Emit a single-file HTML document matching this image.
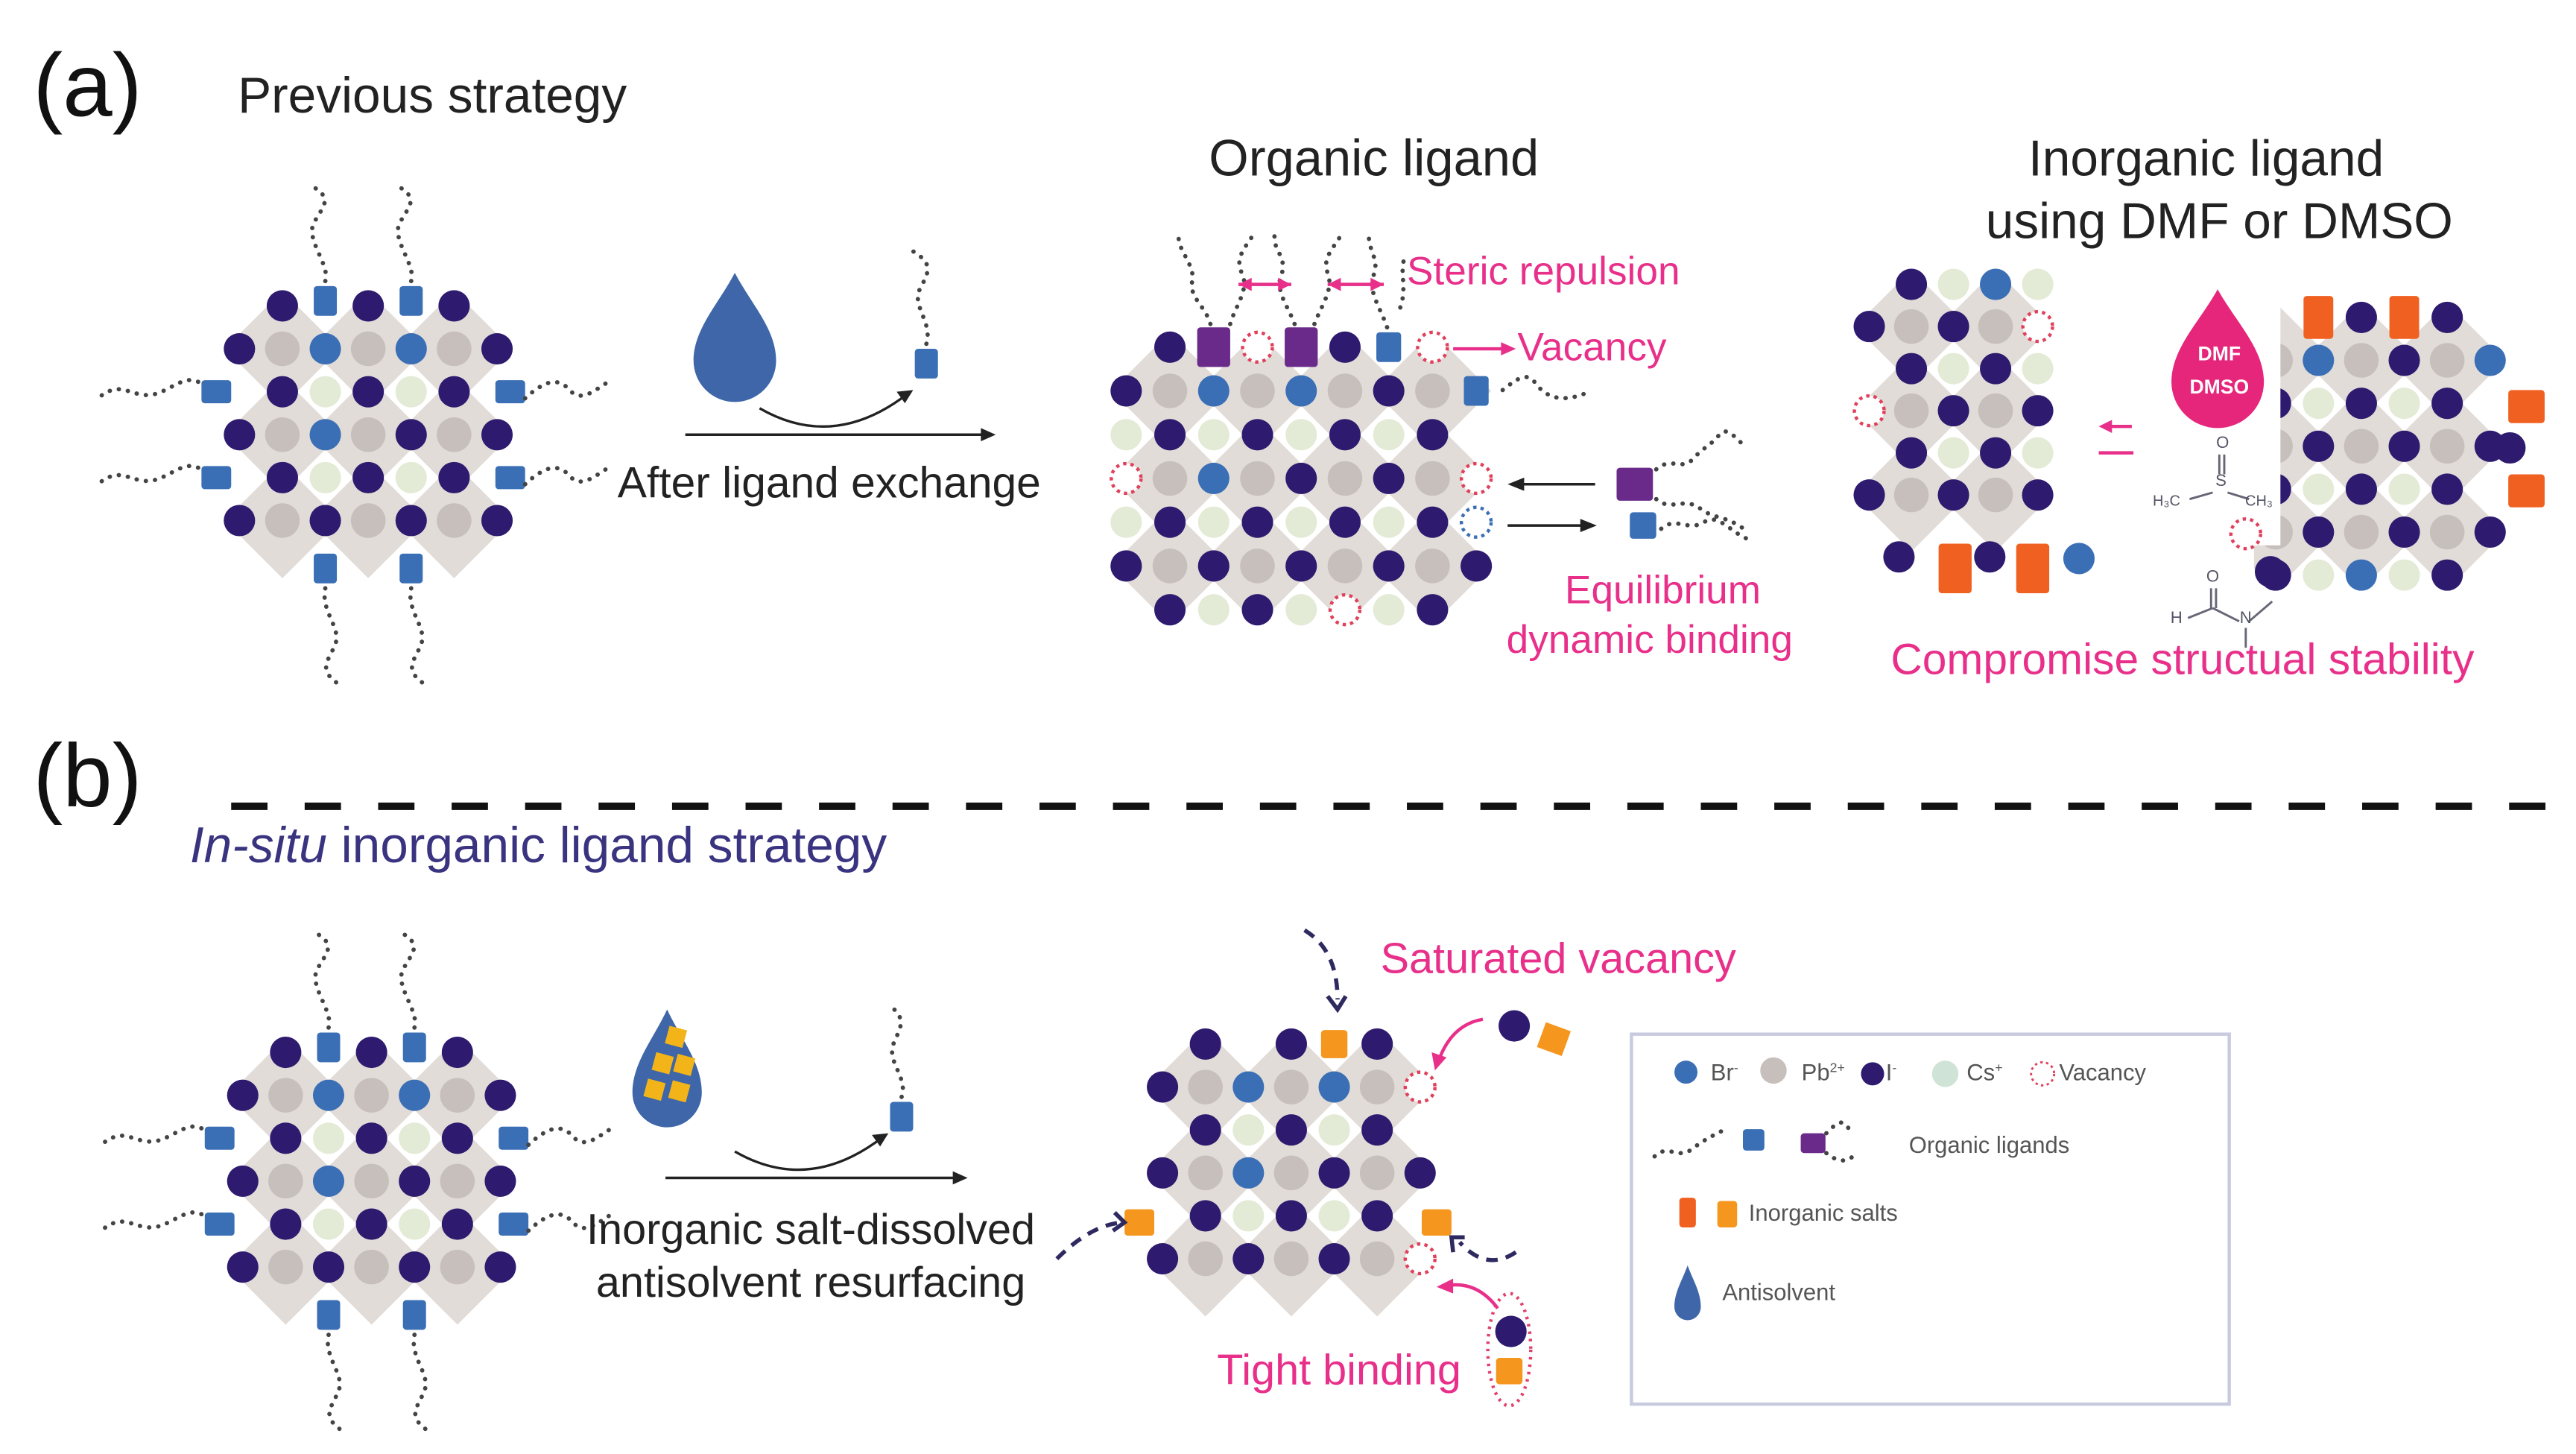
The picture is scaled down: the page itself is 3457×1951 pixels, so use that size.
<!DOCTYPE html>
<html><head><meta charset="utf-8"><style>
html,body{margin:0;padding:0;background:#fff;}
svg{display:block}
text{font-family:"Liberation Sans",Arial,sans-serif;}
</style></head><body>
<svg id="s" width="3457" height="1951" viewBox="0 0 1560 880" xmlns="http://www.w3.org/2000/svg">
<rect width="1560" height="880" fill="#fff"/>
<g id="g"></g>
<g id="t">
<text x="20" y="70" font-size="54" fill="#111">(a)</text>
<text x="144" y="68" font-size="30.5" fill="#222">Previous strategy</text>
<text x="832" y="106" font-size="31" fill="#222" text-anchor="middle">Organic ligand</text>
<text x="1336" y="106" font-size="30.5" fill="#222" text-anchor="middle">Inorganic ligand</text>
<text x="1344" y="144" font-size="30.5" fill="#222" text-anchor="middle">using DMF or DMSO</text>
<text x="852" y="172" font-size="24" fill="#e8308a">Steric repulsion</text>
<text x="919" y="218" font-size="24" fill="#e8308a">Vacancy</text>
<text x="1007" y="365" font-size="24" fill="#e8308a" text-anchor="middle">Equilibrium</text>
<text x="999" y="395" font-size="24" fill="#e8308a" text-anchor="middle">dynamic binding</text>
<text x="1145" y="408" font-size="26.5" fill="#e8308a">Compromise structual stability</text>
<text x="374" y="301" font-size="26.5" fill="#222">After ligand exchange</text>
<text x="20" y="488" font-size="54" fill="#111">(b)</text>
<text x="115" y="522" font-size="30.5" fill="#3a3480"><tspan font-style="italic">In-situ</tspan> inorganic ligand strategy</text>
<text x="836" y="589" font-size="26" fill="#e8308a">Saturated vacancy</text>
<text x="491" y="753" font-size="26" fill="#222" text-anchor="middle">Inorganic salt-dissolved</text>
<text x="491" y="785" font-size="26" fill="#222" text-anchor="middle">antisolvent resurfacing</text>
<text x="737" y="838" font-size="26" fill="#e8308a">Tight binding</text>
<text x="1036" y="654" font-size="14" fill="#555">Br<tspan font-size="8" dy="-5">-</tspan></text>
<text x="1091" y="654" font-size="14" fill="#555">Pb<tspan font-size="8" dy="-5">2+</tspan></text>
<text x="1142" y="654" font-size="14" fill="#555">I<tspan font-size="8" dy="-5">-</tspan></text>
<text x="1191" y="654" font-size="14" fill="#555">Cs<tspan font-size="8" dy="-5">+</tspan></text>
<text x="1247" y="654" font-size="14" fill="#555">Vacancy</text>
<text x="1156" y="698" font-size="14" fill="#555">Organic ligands</text>
<text x="1059" y="739" font-size="14" fill="#555">Inorganic  salts</text>
<text x="1043" y="787" font-size="14" fill="#555">Antisolvent</text>
</g>
</svg>
<script>
const NS="http://www.w3.org/2000/svg";
const g=document.getElementById('g');
const bg=document.createElementNS(NS,'g'),fg=document.createElementNS(NS,'g');
g.appendChild(bg);g.appendChild(fg);
function el(t,a,p){const e=document.createElementNS(NS,t);for(const k in a)e.setAttribute(k,a[k]);(p||fg).appendChild(e);return e;}
function txt(x,y,s,c,str,w){const e=el('text',{x:x,y:y,'font-size':s,fill:c,'text-anchor':'middle'});if(w)e.setAttribute('font-weight','bold');e.textContent=str;}
const C={I:'#2e1a6e',B:'#3a6fb5',P:'#c6bfbb',C:'#e3ebd6',D:'#e2dcd8'};
function circ(x,y,c,r){el('circle',{cx:x,cy:y,r:r||9.5,fill:c});}
function vac(x,y,col){el('circle',{cx:x,cy:y,r:9,fill:'#fff',stroke:col||'#e0405a','stroke-width':2,'stroke-dasharray':'2 2.5'});}
function lig(x,y,c,w,h){el('rect',{x:x-w/2,y:y-h/2,width:w,height:h,rx:2,fill:c});}
function tail(d){el('path',{d:d,fill:'none',stroke:'#444','stroke-width':2.6,'stroke-dasharray':'0.1 5.5','stroke-linecap':'round'});}
function lattice(x0,y0,u,rows,o){o=o||{};
 rows.forEach((r,j)=>{[...r].forEach((ch,i)=>{const x=x0+i*u,y=y0+j*u;
  if(ch==='P'){el('rect',{x:x-u*0.95,y:y-u*0.95,width:u*1.9,height:u*1.9,fill:C.D,transform:`rotate(45 ${x} ${y})`},bg);}
 });});
 rows.forEach((r,j)=>{[...r].forEach((ch,i)=>{const x=x0+i*u,y=y0+j*u;
  if(ch==='P')circ(x,y,C.P,10.5);else if(ch==='I')circ(x,y,C.I);else if(ch==='B')circ(x,y,C.B);
  else if(ch==='C')circ(x,y,C.C);else if(ch==='V')vac(x,y);else if(ch==='W')vac(x,y,'#3a6fb5');
  else if(ch==='L')lig(x,y,'#3a6fb5',15,18);else if(ch==='M')lig(x,y,'#6a2a8a',20,24);
  else if(ch==='O')lig(x,y,o.O||'#f5961e',16,17);else if(ch==='R')lig(x,y,'#f06020',18,26);
 });});}
function leftCrystal(dx,dy){
 lattice(145+dx,185+dy,26,[".I.I.I.","IPBPBPI",".ICICI.","IPBPIPI",".ICICI.","IPIPIPI"]);
 [[197,182],[249,182]].forEach(p=>lig(p[0]+dx,p[1]+dy,'#3a6fb5',14,18));
 [[197,344],[249,344]].forEach(p=>lig(p[0]+dx,p[1]+dy,'#3a6fb5',14,18));
 [[131,237],[131,289]].forEach(p=>lig(p[0]+dx,p[1]+dy,'#3a6fb5',18,14));
 [[309,237],[309,289]].forEach(p=>lig(p[0]+dx,p[1]+dy,'#3a6fb5',18,14));
 const t=(d)=>tail(d.replace(/(-?\d+\.?\d*),(-?\d+\.?\d*)/g,(m,a,b)=>(+a+dx)+','+(+b+dy)));
 t("M197,170 C200,160 185,145 190,135 C195,125 203,120 188,112");
 t("M249,170 C252,160 237,145 242,135 C247,125 255,120 240,112");
 t("M197,356 C194,370 207,380 203,390 C199,400 192,405 205,414");
 t("M249,356 C246,370 259,380 255,390 C251,400 244,405 257,414");
 t("M120,231 C110,226 100,240 88,239 C76,238 72,230 58,242");
 t("M120,283 C110,278 100,292 88,291 C76,290 72,282 58,294");
 t("M318,241 C330,230 338,228 345,236 C352,244 360,236 370,230");
 t("M318,293 C330,282 338,280 345,288 C352,296 360,288 370,282");
}
leftCrystal(0,0);leftCrystal(2,452);
function drop(x,y,w,h,c){el('path',{d:`M${x},${y} C${x+w*0.2},${y+h*0.25} ${x+w/2},${y+h*0.45} ${x+w/2},${y+h*0.7} A${w/2},${w/2} 0 0 1 ${x-w/2},${y+h*0.7} C${x-w/2},${y+h*0.45} ${x-w*0.2},${y+h*0.25} ${x},${y} Z`,fill:c});}
drop(445,165,50,76,'#3e66a8');
function exArrow(x1,x2,y,cx){
 el('path',{d:`M${x1},${y} L${x2-8},${y}`,stroke:'#222','stroke-width':1.6,fill:'none'});
 el('path',{d:`M${x2},${y} l-9,-4 v8z`,fill:'#222'});
 el('path',{d:`M${cx-45},${y-16} Q${cx},${y+10} ${cx+45},${y-25}`,stroke:'#222','stroke-width':1.5,fill:'none'});
 el('path',{d:`M${cx+48},${y-27} l-10,1 l5,7z`,fill:'#222'});}
exArrow(415,603,263,505);
lig(561,220,'#3a6fb5',14,18);tail("M561,208 C565,195 552,185 557,175 C562,165 566,160 553,152");
lattice(682,210,26.5,[".IMVMILV","IPBPBPIPL","CICICICI","VPBPIPIPV","CICICICIW","IPIPIPIPI",".ICICVCI"]);
tail("M733,196 C730,185 720,180 722,170 C724,160 712,150 714,142");
tail("M745,196 C748,185 757,175 752,165 C747,155 756,148 760,140");
tail("M784,196 C780,185 772,176 776,166 C780,156 770,150 772,142");
tail("M796,196 C800,185 808,175 804,165 C800,155 810,148 813,140");
tail("M840,198 C836,186 828,176 832,166 C836,156 826,148 830,140");
tail("M848,186 C852,175 848,165 850,158");
tail("M910,236 C920,228 925,225 930,232 C936,240 945,244 960,238");
el('path',{d:'M750,172 H782 M804,172 H838',stroke:'#e8308a','stroke-width':2});
[[750,1],[782,-1],[804,1],[838,-1]].forEach(a=>el('path',{d:`M${a[0]},172 l${a[1]*8},-4 v8z`,fill:'#e8308a'}));
el('path',{d:'M880,211 H910',stroke:'#e8308a','stroke-width':2});el('path',{d:'M918,211 l-9,-4 v8z',fill:'#e8308a'});
el('path',{d:'M966,293 H922',stroke:'#222','stroke-width':1.6});el('path',{d:'M913,293 l10,-4 v8z',fill:'#222'});
el('path',{d:'M913,318 H958',stroke:'#222','stroke-width':1.6});el('path',{d:'M967,318 l-10,-4 v8z',fill:'#222'});
lig(990,293,'#6a2a8a',22,20);lig(995,318,'#3a6fb5',16,16);
tail("M1003,284 C1012,276 1018,285 1025,278 C1032,270 1036,270 1042,262 C1048,258 1052,268 1058,270");
tail("M1003,302 C1012,310 1020,300 1030,308 C1038,314 1045,312 1056,320");
tail("M1006,320 C1015,312 1022,322 1032,316 C1040,310 1048,322 1058,326");
// (a) right
lattice(1132,172,25.5,[".ICBC","IPIPV",".ICIC","VPIPI",".ICIC","IPIPI"]);
circ(1150,337,C.I);circ(1205,337,C.I);circ(1259,338,C.B);
lig(1184,344,'#f06020',20,30);lig(1231,344,'#f06020',20,30);
lattice(1378,192,26,[".RIRI..","PBPIPB","ICICI","PIPIPI","ICICI","PIPIPI","ICBCI"]);
el('rect',{x:1285,y:150,width:96,height:180,fill:'#fff'});
el('rect',{x:1285,y:330,width:80,height:60,fill:'#fff'});
circ(1375,346,C.I);
lig(1530,246,'#f06020',22,20);lig(1530,297,'#f06020',22,20);circ(1520,271,C.I);
vac(1360,323);
drop(1343,175,56,80,'#e5267a');
txt(1344,218,12,'#fff','DMF',1);txt(1344,238,12,'#fff','DMSO',1);
el('path',{d:'M1291,258 H1278',stroke:'#e8308a','stroke-width':2});el('path',{d:'M1271,258 l8,-4 v8z',fill:'#e8308a'});
el('path',{d:'M1271,274 H1292',stroke:'#e8308a','stroke-width':2});
el('path',{d:'M1344,275 V287 M1347,275 V287 M1340,298 L1326,302 M1349,298 L1362,302 M1339,356 V368 M1342,356 V368 M1340,368 L1325,374 M1340,368 L1356,376 M1362,376 L1376,364 M1360,380 V392',stroke:'#667','stroke-width':1.3,fill:'none'});
txt(1346,271,10,'#556','O');txt(1345,294,10,'#556','S');txt(1312,306,9,'#556','H₃C');txt(1368,306,9,'#556','CH₃');
txt(1340,352,10,'#556','O');txt(1318,377,10,'#556','H');txt(1360,377,10,'#556','N');
// (b)
drop(404,611,42,72,'#3e66a8');
[[409,627],[401,643],[414,644],[396,659],[411,660]].forEach(p=>el('rect',{x:p[0]-5,y:p[1]-5,width:11,height:11,fill:'#f2b418',transform:`rotate(15 ${p[0]} ${p[1]})`}));
exArrow(403,586,713,490);
lig(546,676,'#3a6fb5',14,18);tail("M546,664 C550,652 537,643 541,632 C545,622 550,617 538,608");
lattice(704,632,26,[".I.IOI","IPBPBPV",".ICICI","IPBPIPI",".ICICI","IPIPIPV"],{O:'#f5961e'});
lig(690,740,'#f5961e',18,16);lig(870,740,'#f5961e',18,16);
circ(917,621,C.I);el('rect',{x:933,y:621,width:16,height:16,fill:'#f5961e',transform:'rotate(20 941 629)'});
el('path',{d:'M898,617 Q880,620 872,640',stroke:'#e8308a','stroke-width':2,fill:'none'});el('path',{d:'M869,648 l-2,-11 l9,3z',fill:'#e8308a'});
el('path',{d:'M790,563 Q810,575 810,605',stroke:'#2e2a60','stroke-width':2.5,fill:'none','stroke-dasharray':'7 5'});el('path',{d:'M804,603 l6,8 l5,-8',stroke:'#2e2a60','stroke-width':2.5,fill:'none'});
el('path',{d:'M640,762 Q660,742 679,740',stroke:'#2e2a60','stroke-width':2.5,fill:'none','stroke-dasharray':'7 5'});el('path',{d:'M675,734 l6,6 l-7,5',stroke:'#2e2a60','stroke-width':2.5,fill:'none'});
el('path',{d:'M918,758 Q900,770 884,752',stroke:'#2e2a60','stroke-width':2.5,fill:'none','stroke-dasharray':'7 5'});el('path',{d:'M880,758 l-1,-9 l8,0',stroke:'#2e2a60','stroke-width':2.5,fill:'none'});
circ(915,806,C.I);lig(914,830,'#f5961e',16,16);
el('ellipse',{cx:914,cy:817,rx:13,ry:34,fill:'none',stroke:'#e0406a','stroke-width':2,'stroke-dasharray':'1.5 3'});
el('path',{d:'M907,792 Q895,776 878,778',stroke:'#e8308a','stroke-width':2,fill:'none'});el('path',{d:'M870,779 l10,-5 v9z',fill:'#e8308a'});
el('path',{d:'M140,488 H1552',stroke:'#111','stroke-width':4.5,'stroke-dasharray':'22 22.5'});
el('rect',{x:988,y:626,width:362,height:224,fill:'none',stroke:'#c8cbe0','stroke-width':2});
circ(1021,649,'#3a6fb5',7);circ(1074,648,C.P,8);circ(1134,650,C.I,7);circ(1178,650,'#cfe3d6',8);
el('circle',{cx:1237,cy:650,r:7,fill:'#fff',stroke:'#e0405a','stroke-width':1.3,'stroke-dasharray':'1.5 2'});
tail("M1002,700 C1010,692 1016,702 1024,696 C1032,690 1036,688 1044,684");
lig(1062,690,'#3a6fb5',13,13);lig(1098,692,'#6a2a8a',15,12);
tail("M1106,686 C1112,680 1116,676 1120,684 M1106,698 C1112,703 1118,704 1122,700");
lig(1022,734,'#f06020',10,18);lig(1046,735,'#f5961e',12,16);
drop(1022,766,16,36,'#3e66a8');
</script>
</body></html>
